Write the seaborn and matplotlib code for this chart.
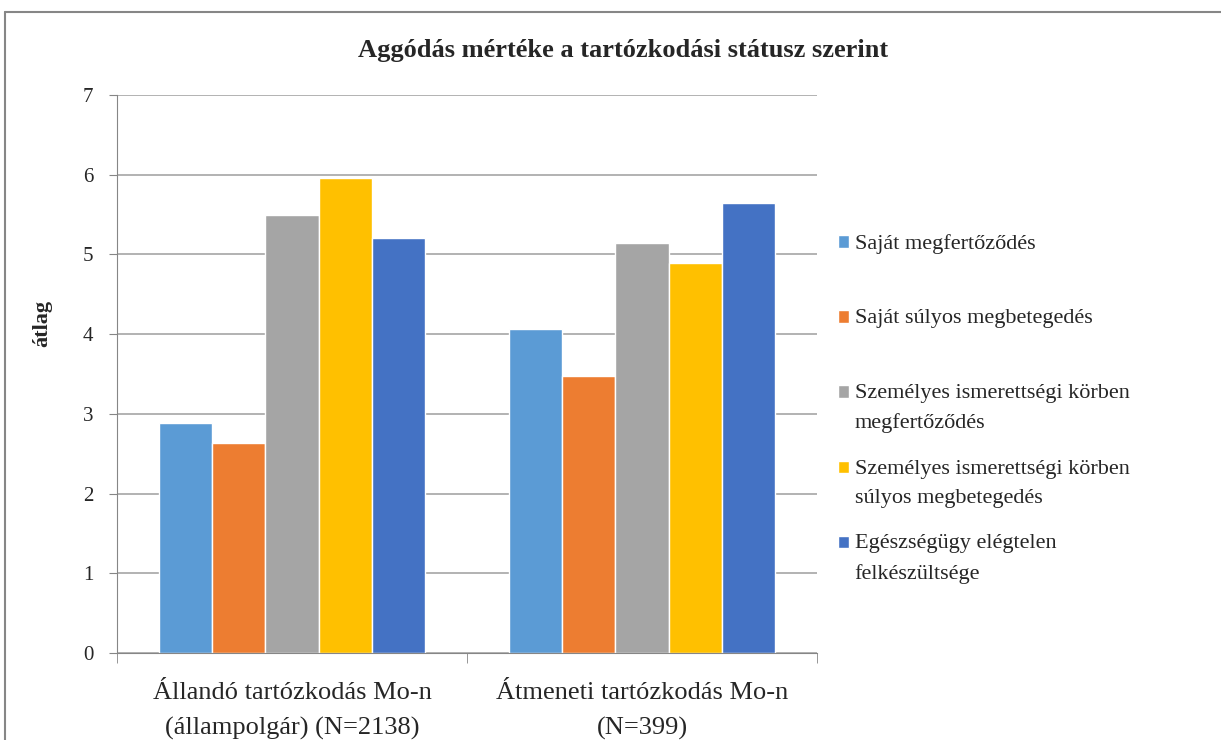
import pandas as pd
import numpy as np
import matplotlib.pyplot as plt
import seaborn as sns
from matplotlib.lines import Line2D

# adatok
kategoriak = ['Állandó tartózkodás Mo-n\n(állampolgár) (N=2138)',
              'Átmeneti tartózkodás Mo-n\n(N=399)']
sorozatok = ['Saját megfertőződés',
             'Saját súlyos megbetegedés',
             'Személyes ismerettségi körben\nmegfertőződés',
             'Személyes ismerettségi körben\nsúlyos megbetegedés',
             'Egészségügy elégtelen\nfelkészültsége']
allando = [2.88, 2.64, 5.49, 5.96, 5.20]
atmeneti = [4.07, 3.47, 5.14, 4.89, 5.65]
szinek = ['#5B9BD5', '#ED7D31', '#A5A5A5', '#FFC000', '#4472C4']

df = pd.DataFrame({
    'kategoria': [kategoriak[0]] * 5 + [kategoriak[1]] * 5,
    'sorozat': sorozatok * 2,
    'atlag': allando + atmeneti,
})

sns.set_style('white')
plt.rcParams['font.family'] = ['Liberation Serif', 'DejaVu Serif']

fig = plt.figure(figsize=(12.21, 7.4), dpi=100)
ax = fig.add_axes([117 / 1221, 1 - 653 / 740, 700 / 1221, 558 / 740])

sns.barplot(data=df, x='kategoria', y='atlag', hue='sorozat',
            hue_order=sorozatok, palette=szinek, width=0.76,
            saturation=1, ax=ax)

ax.set_xlim(-0.5, 1.5)
ax.set_ylim(0, 7)
ax.set_yticks(range(8))
ax.tick_params(axis='y', labelsize=15, length=6, color='#868686', left=True, pad=11)
ax.set_xticks([0, 1])
ax.set_xticklabels(kategoriak, fontsize=19, linespacing=1.72)
ax.tick_params(axis='x', length=0, pad=21)
ax.set_xticks([-0.5, 0.5, 1.5], minor=True)
ax.tick_params(axis='x', which='minor', length=7, color='#868686', bottom=True)
ax.grid(axis='y', color='#A6A6A6', linewidth=1.2)
ax.set_axisbelow(True)
for s in ['top', 'right']:
    ax.spines[s].set_visible(False)
for s in ['left', 'bottom']:
    ax.spines[s].set_color('#868686')
ax.set_xlabel('')
ax.set_ylabel('átlag', fontsize=16, fontweight='bold')
ax.yaxis.set_label_coords(-0.093, 0.59)

fig.text(0.510, 1 - 50 / 740, 'Aggódás mértéke a tartózkodási státusz szerint',
         ha='center', va='center', fontsize=19, fontweight='bold')

# jelmagyarázat: minden bejegyzés két soros, a négyzet az első sornál
handles, labels = ax.get_legend_handles_labels()
labels = [l if '\n' in l else l + '\n' for l in labels]
leg = ax.legend(handles, labels, loc='upper left',
                bbox_to_anchor=(838 / 1221, 1 - 234 / 740),
                bbox_transform=fig.transFigure, frameon=False,
                fontsize=16, handlelength=0.5, handleheight=0.5,
                labelspacing=1.2, handletextpad=0.25,
                borderpad=0, borderaxespad=0)
for t in leg.get_texts():
    t.set_linespacing(1.7)
for h in leg.legend_handles:
    h.set_y(h.get_y() + 11.5)

# keret a diagram körül (felső és bal oldal)
fig.add_artist(Line2D([5 / 1221, 5 / 1221], [0, 1 - 12 / 740],
                      transform=fig.transFigure, color='#868686', lw=1.5))
fig.add_artist(Line2D([5 / 1221, 1], [1 - 12 / 740, 1 - 12 / 740],
                      transform=fig.transFigure, color='#868686', lw=1.5))

fig.savefig('out.png', dpi=100)
